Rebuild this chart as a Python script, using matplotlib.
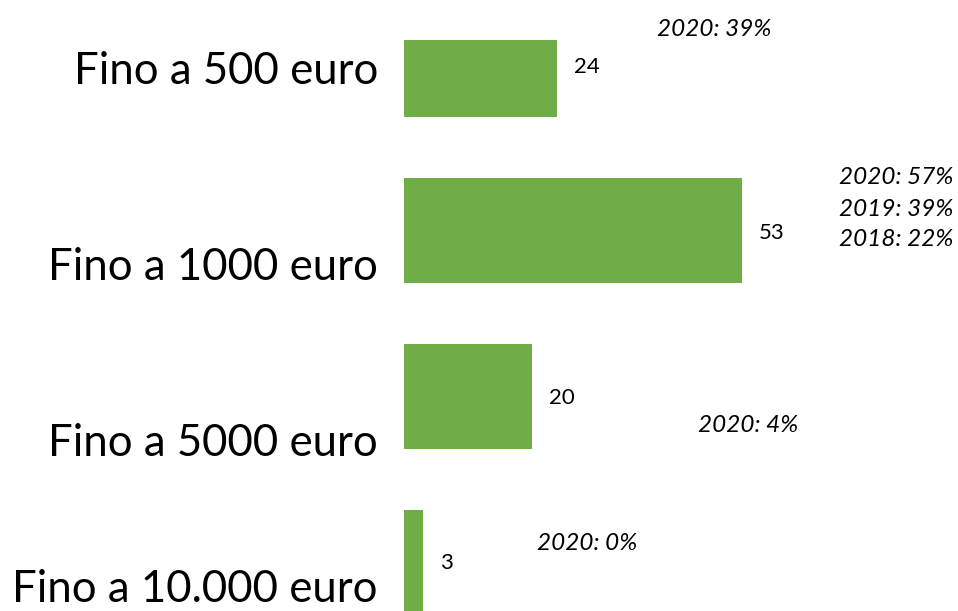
import matplotlib
matplotlib.use("Agg")
import matplotlib.pyplot as plt

categories = ["Fino a 500 euro", "Fino a 1000 euro", "Fino a 5000 euro", "Fino a 10.000 euro"]
values = [24, 53, 20, 3]
notes = [["2020: 39%"], ["2020: 57%", "2019: 39%", "2018: 22%"], ["2020: 4%"], ["2020: 0%"]]

# layout (pixel units on y axis)
bar_top = [40, 178, 344, 510]
bar_bot = [117, 283, 449, 615]
label_y = [72, 268, 443, 590]
value_y = [67, 233, 398, 563]
note_pos = [(771, [30]), (953, [177, 209, 240]), (798, [426]), (637, [544])]

W, H = 958, 611
px_per_unit = 6.375
x0 = 404
fig = plt.figure(figsize=(W / 100, H / 100), dpi=100)
ax = fig.add_axes([0, 0, 1, 1])
ax.set_xlim(-x0 / px_per_unit, (W - x0) / px_per_unit)
ax.set_ylim(H, 0)
ax.axis("off")

green = "#70AD47"
font = "Lato"
for i, v in enumerate(values):
    ax.barh((bar_top[i] + bar_bot[i]) / 2, v, height=bar_bot[i] - bar_top[i], left=0,
            color=green, edgecolor="none")
    ax.text(v + 17 / px_per_unit, value_y[i], str(v), ha="left", va="center",
            fontsize=16, family=font, color="black")
    ax.text((378 - x0) / px_per_unit, label_y[i], categories[i], ha="right", va="center",
            fontsize=31.5, family=font, color="black")
    xr, ys = note_pos[i]
    for t, y in zip(notes[i], ys):
        ax.text((xr - x0) / px_per_unit, y, t, ha="right", va="center",
                fontsize=17.5, family=font, style="italic", color="black")

fig.savefig("out.png", dpi=100)
